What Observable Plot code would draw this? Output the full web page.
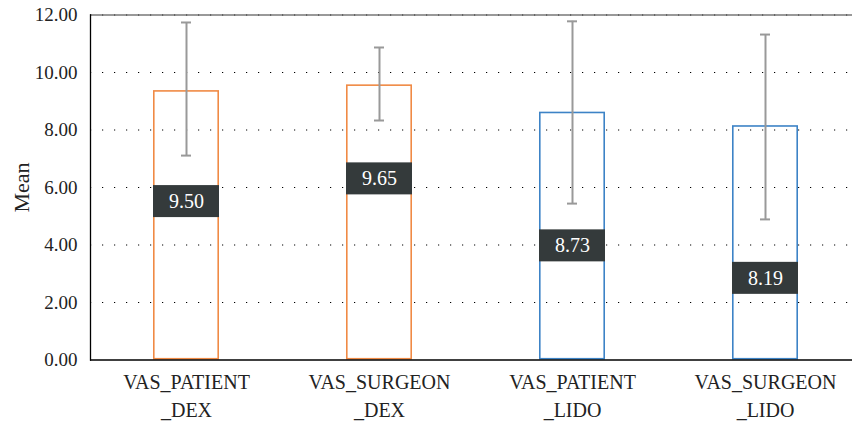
<!DOCTYPE html>
<html>
<head>
<meta charset="utf-8">
<script src="https://cdn.jsdelivr.net/npm/d3@7"></script>
<script src="https://cdn.jsdelivr.net/npm/@observablehq/plot@0.6"></script>
<style>
  html, body { margin: 0; padding: 0; background: #fff; }
  #chart svg { display: block; overflow: visible; }
  #chart svg, #chart svg text, #chart svg tspan { font-family: "Liberation Serif", serif !important; }
</style>
</head>
<body>
<div id="chart"></div>
<script>
const categories = ["VAS_PATIENT_DEX", "VAS_SURGEON_DEX", "VAS_PATIENT_LIDO", "VAS_SURGEON_LIDO"];
const groups = ["DEX", "DEX", "LIDO", "LIDO"];
const barValues = [9.37, 9.57, 8.62, 8.15];
const errLow = [7.11, 8.33, 5.44, 4.89];
const errHigh = [11.74, 10.87, 11.78, 11.32];
const valueLabels = ["9.50", "9.65", "8.73", "8.19"];
const labelCenters = [5.51, 6.30, 3.97, 2.84];
const yTicks = [0, 2, 4, 6, 8, 10, 12];
const gridTicks = [2, 4, 6, 8, 10, 12];

const data = categories.map((c, i) => ({
  cat: c, group: groups[i], value: barValues[i], lo: errLow[i], hi: errHigh[i],
  label: valueLabels[i], lc: labelCenters[i]
}));

const W = 852, H = 421;
const mL = 90, mT = 14.5, mB = 61.5;
const pxPerUnit = (H - mT - mB) / 12;
const boxHalf = 16 / pxPerUnit;

const font = "Liberation Serif";

const chart = Plot.plot({
  width: W,
  height: H,
  marginLeft: mL,
  marginRight: 0,
  marginTop: mT,
  marginBottom: mB,
  style: { fontFamily: font, fontSize: "19px", color: "#222", background: "#fff" },
  x: { type: "band", domain: categories, range: [90, 862], paddingInner: 0.658, paddingOuter: 0.329 },
  y: { domain: [0, 12], range: [H - mB, mT] },
  color: { domain: ["DEX", "LIDO"], range: ["#f08a45", "#3d83c6"] },
  marks: [
    Plot.ruleY(gridTicks, { stroke: "#000", strokeWidth: 1.2, strokeDasharray: "1.2,10.8" }),
    Plot.ruleY([12], { stroke: "#555", strokeWidth: 1.3, strokeOpacity: 0.8 }),
    Plot.barY(data, { x: "cat", y: "value", fill: "none", stroke: "group", strokeWidth: 1.6, inset: 0.8 }),
    Plot.ruleX(data, { x: "cat", y1: "lo", y2: "hi", stroke: "#999", strokeWidth: 2 }),
    Plot.tickY(data, { x: "cat", y: "lo", stroke: "#999", strokeWidth: 2, insetLeft: 28, insetRight: 28 }),
    Plot.tickY(data, { x: "cat", y: "hi", stroke: "#999", strokeWidth: 2, insetLeft: 28, insetRight: 28 }),
    Plot.barY(data, { x: "cat", y1: d => d.lc - boxHalf, y2: d => d.lc + boxHalf, fill: "#343a3b" }),
    Plot.text(data, { x: "cat", y: "lc", text: "label", fill: "#fff", fontSize: 20 }),
    Plot.axisY(yTicks, { tickSize: 0, tickPadding: 13, tickFormat: d3.format(".2f"), label: null, fontSize: 19, fill: "#222" }),
    Plot.axisX({ tickSize: 0, tickPadding: 10, label: null, fontSize: 20, fill: "#222", lineHeight: 1.36,
      tickFormat: d => { const k = d.lastIndexOf("_"); return d.slice(0, k) + "\n" + d.slice(k); } }),
    Plot.frame({ anchor: "left", stroke: "#000", strokeWidth: 1.3 }),
    Plot.ruleY([0], { stroke: "#000", strokeWidth: 1.3 }),
    Plot.text(["Mean"], { frameAnchor: "left", dx: -69, rotate: -90, textAnchor: "middle", fontSize: 22, fill: "#222" })
  ]
});

document.getElementById("chart").appendChild(chart);
</script>
</body>
</html>
